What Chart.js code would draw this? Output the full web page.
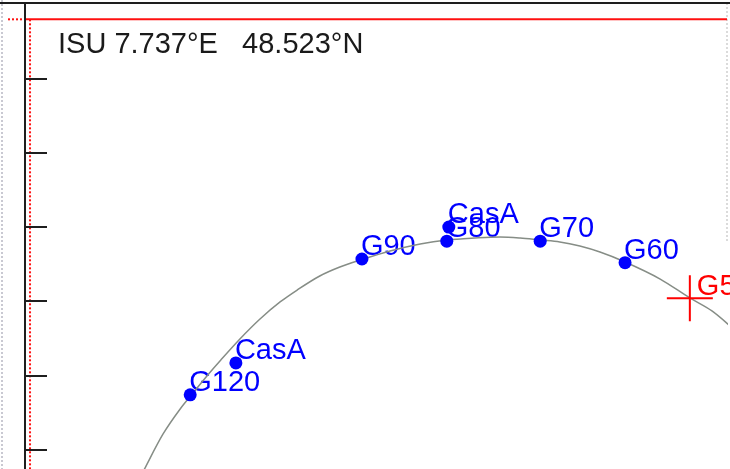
<!DOCTYPE html>
<html>
<head>
<meta charset="utf-8">
<script src="https://cdn.jsdelivr.net/npm/chart.js@4/dist/chart.umd.min.js"></script>
<style>
  html, body { margin: 0; padding: 0; background: #fff; }
  canvas { display: block; }
</style>
</head>
<body>
<canvas id="skyChart" width="730" height="469"></canvas>
<script>
"use strict";

// site header
const siteLabel = "ISU 7.737°E   48.523°N";

// geostationary belt as seen from the site (azimuth / elevation, degrees)
const arcAz = [103.1, 103.9, 107.5, 110.9, 113.3, 116.4, 119.0, 122.8, 126.8, 130.8, 134.2, 138.7,
  142.7, 147.1, 152.7, 158.7, 164.0, 169.6, 174.6, 178.6, 182.6, 186.5, 190.5, 194.5, 199.5,
  206.5, 212.4, 216.8, 221.4];
const arcEl = [6.46, 7.53, 12.12, 15.49, 17.51, 20.07, 22.09, 24.92, 27.61, 29.91, 31.52, 33.41,
  34.62, 35.63, 36.78, 37.72, 38.26, 38.53, 38.67, 38.53, 38.26, 38.0, 37.45, 36.64, 35.3,
  33.0, 30.45, 28.7, 26.1];

// catalogued sources
const satNames = ["G120", "CasA", "G90", "G80", "CasA", "G70", "G60"];
const satAz = [112.9, 122.0, 147.1, 164.0, 164.4, 182.6, 199.5];
const satEl = [17.4, 21.7, 35.7, 38.1, 40.0, 38.1, 35.2];

// current pointing
const markNames = ["G5"];
const markAz = [212.4];
const markEl = [30.4];

// elevation ticks and limits
const elevTicks = [10, 20, 30, 40, 50, 60];
const elevLimit = 68;
const azLimit = 81;

const toPoints = (xs, ys) => xs.map((x, i) => ({ x: x, y: ys[i] }));

const labelFont = "29px 'Liberation Sans', Arial, sans-serif";

// frame, limits and ticks drawn behind everything
const framePlugin = {
  id: "frame",
  beforeDraw(chart) {
    const { ctx, chartArea, scales } = chart;
    const yLim = scales.y.getPixelForValue(elevLimit);
    const xLim = scales.x.getPixelForValue(azLimit);
    ctx.save();
    ctx.fillStyle = "#fff";
    ctx.fillRect(0, 0, chart.width, chart.height);

    // faint edge on the far left
    ctx.strokeStyle = "#c9c9d2";
    ctx.lineWidth = 2;
    ctx.setLineDash([2, 2]);
    ctx.beginPath();
    ctx.moveTo(2, 0);
    ctx.lineTo(2, chart.height);
    ctx.stroke();

    // right edge, dotted
    ctx.strokeStyle = "#b8b8b8";
    ctx.lineWidth = 1;
    ctx.beginPath();
    ctx.moveTo(chartArea.right - 1, chartArea.top);
    ctx.lineTo(chartArea.right - 1, scales.y.getPixelForValue(38));
    ctx.stroke();
    ctx.setLineDash([]);

    // elevation limit
    ctx.strokeStyle = "#ff1010";
    ctx.lineWidth = 2;
    ctx.beginPath();
    ctx.moveTo(chartArea.left, yLim);
    ctx.lineTo(chartArea.right - 1, yLim);
    ctx.stroke();
    ctx.setLineDash([2, 2]);
    ctx.beginPath();
    ctx.moveTo(8, yLim);
    ctx.lineTo(chartArea.left, yLim);
    ctx.stroke();

    // azimuth limit
    ctx.beginPath();
    ctx.moveTo(xLim, yLim);
    ctx.lineTo(xLim, chartArea.bottom);
    ctx.stroke();
    ctx.setLineDash([]);

    // axes
    ctx.strokeStyle = "#1e1e1e";
    ctx.lineWidth = 2;
    ctx.beginPath();
    ctx.moveTo(0, chartArea.top);
    ctx.lineTo(chart.width, chartArea.top);
    ctx.moveTo(chartArea.left, chartArea.top);
    ctx.lineTo(chartArea.left, chart.height);
    ctx.stroke();

    // tick marks point inwards
    ctx.beginPath();
    elevTicks.forEach((v) => {
      const y = Math.round(scales.y.getPixelForValue(v));
      ctx.moveTo(chartArea.left, y);
      ctx.lineTo(chartArea.left + 22, y);
    });
    ctx.stroke();

    // header
    ctx.fillStyle = "#1a1a1a";
    ctx.font = labelFont;
    ctx.textBaseline = "alphabetic";
    ctx.fillText(siteLabel, 58, 53);
    ctx.restore();
  },

  // names next to each source
  beforeDatasetsDraw(chart) {
    const { ctx } = chart;
    ctx.save();
    ctx.font = labelFont;
    ctx.textBaseline = "alphabetic";
    chart.data.datasets.forEach((ds, i) => {
      if (!ds.names) return;
      const meta = chart.getDatasetMeta(i);
      ctx.fillStyle = ds.labelColor;
      meta.data.forEach((pt, j) => {
        ctx.fillText(ds.names[j], pt.x + ds.labelDx, pt.y + ds.labelDy);
      });
    });
    ctx.restore();
  },
};

const skyChart = new Chart(document.getElementById("skyChart"), {
  type: "scatter",
  data: {
    datasets: [
      {
        data: toPoints(satAz, satEl),
        names: satNames,
        labelColor: "#0000ff",
        labelDx: -1,
        labelDy: -4,
        backgroundColor: "#0000ff",
        borderColor: "#0000ff",
        pointRadius: 6.5,
        pointBorderWidth: 0,
      },
      {
        data: toPoints(markAz, markEl),
        names: markNames,
        labelColor: "#ff0000",
        labelDx: 7,
        labelDy: -3,
        pointStyle: "cross",
        pointRadius: 23,
        borderColor: "#ff0000",
        pointBorderWidth: 2,
      },
      {
        type: "line",
        data: toPoints(arcAz, arcEl),
        borderColor: "#868d86",
        borderWidth: 1.5,
        pointRadius: 0,
        cubicInterpolationMode: "monotone",
        fill: false,
      },
    ],
  },
  options: {
    responsive: false,
    animation: false,
    layout: { autoPadding: false, padding: { left: 25, top: 3, right: 2, bottom: 0 } },
    plugins: {
      legend: { display: false },
      tooltip: { enabled: false },
    },
    scales: {
      x: { type: "linear", min: 80, max: 220, display: false },
      y: { type: "linear", min: 7.4, max: 70.2, display: false },
    },
  },
  plugins: [framePlugin],
});
</script>
</body>
</html>
